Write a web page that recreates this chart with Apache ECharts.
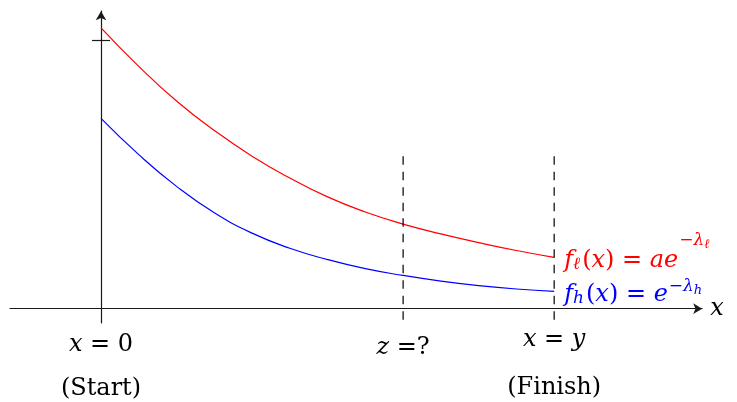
<!DOCTYPE html>
<html>
<head>
<meta charset="utf-8">
<script src="https://cdn.jsdelivr.net/npm/echarts@6/dist/echarts.min.js"></script>
<style>
  html, body { margin: 0; padding: 0; background: #fff; }
  #chart { width: 737px; height: 402px; }
</style>
</head>
<body>
<div id="chart"></div>
<script>
// sample positions along x (axis units, 0 = start)
const xs = [0, 0.5, 1, 1.5, 2, 2.5, 3, 3.5, 4, 4.5, 5, 5.5, 6]
const redValues = [3.72, 3.21, 2.75, 2.36, 2.02, 1.73, 1.48, 1.28, 1.12, 0.99, 0.875, 0.77, 0.68]
const blueValues = [2.52, 2.04, 1.62, 1.27, 1.00, 0.80, 0.65, 0.53, 0.44, 0.365, 0.305, 0.26, 0.23]
// dashed verticals at z and y
const markerXs = [4, 6]
const markerSpan = [2.02, -0.19]
// tick labels
const xTickValues = [0, 4, 6]
const xTickLabels = ['x = 0', 'z =?', 'x = y']
const xSubLabels = ['(Start)', '', '(Finish)']
const yTickValues = [3.55]

const FONT = 'DejaVu Serif'
const FS = 24
// per-label line heights, so each label's baseline sits where it is in the picture
const firstLineH = [54, 60, 44]
const secondLineH = [34, 34, 52]

const chart = echarts.init(document.getElementById('chart'))

const labelRich = {}
firstLineH.concat(secondLineH).forEach(lh => {
  labelRich['i' + lh] = { fontFamily: FONT, fontSize: FS, fontStyle: 'italic', lineHeight: lh, color: '#000' }
  labelRich['n' + lh] = { fontFamily: FONT, fontSize: FS, lineHeight: lh, color: '#000' }
})

function mathRich(s, lh) {
  return s.replace(/([A-Za-z]+)|([^A-Za-z]+)/g, (m, a, b) => a ? `{i${lh}|${a}}` : `{n${lh}|${b}}`)
}

function endRich(color, supRaise, supSubRaise) {
  const base = { fontFamily: FONT, color: color }
  return {
    fi: { ...base, fontSize: FS, fontStyle: 'italic', lineHeight: 30 },
    fn: { ...base, fontSize: FS, lineHeight: 30 },
    sub: { ...base, fontSize: 17, fontStyle: 'italic', lineHeight: 18, padding: [8, 2, 0, 0] },
    sup: { ...base, fontSize: 17, fontStyle: 'italic', lineHeight: 18, padding: [0, 0, supRaise * 2, 1] },
    supsub: { ...base, fontSize: 13, fontStyle: 'italic', lineHeight: 14, padding: [0, 0, supSubRaise * 2, 0] }
  }
}

const axisLineStyle = { color: '#1a1a1a', width: 1.2 }

chart.setOption({
  animation: false,
  grid: { left: 10, right: 34.8, top: 11.2, bottom: 79, outerBoundsMode: 'none', containLabel: false },
  xAxis: {
    type: 'value',
    min: -1.205,
    max: 7.96,
    name: 'x',
    nameLocation: 'end',
    nameGap: 8,
    nameTextStyle: { fontFamily: FONT, fontSize: FS, fontStyle: 'italic', color: '#000' },
    axisLine: { onZero: true, symbol: ['none', 'arrow'], symbolSize: [8, 9], lineStyle: axisLineStyle },
    axisTick: { show: false },
    splitLine: { show: false },
    axisLabel: {
      customValues: xTickValues,
      margin: -5,
      rich: labelRich,
      formatter: (value) => {
        const k = xTickValues.indexOf(value)
        let s = mathRich(xTickLabels[k], firstLineH[k])
        if (xSubLabels[k]) s += '\n' + `{n${secondLineH[k]}|${xSubLabels[k]}}`
        return s
      }
    }
  },
  yAxis: [{
    type: 'value',
    min: -0.19,
    max: 3.94,
    axisLine: { onZero: true, symbol: ['none', 'arrow'], symbolSize: [8, 9], lineStyle: axisLineStyle },
    axisTick: { show: true, customValues: yTickValues, length: 9, lineStyle: axisLineStyle },
    axisLabel: { show: false },
    splitLine: { show: false }
  }, {
    // right half of the crossing tick
    type: 'value',
    min: -0.19,
    max: 3.94,
    position: 'left',
    offset: -91,
    axisLine: { show: false, onZero: false },
    axisTick: { show: true, inside: true, customValues: yTickValues, length: 9, lineStyle: axisLineStyle },
    axisLabel: { show: false },
    splitLine: { show: false }
  }],
  series: [
    {
      type: 'line',
      data: xs.map((x, i) => [x, redValues[i]]),
      smooth: true,
      showSymbol: false,
      lineStyle: { color: '#ff0000', width: 1.2 },
      endLabel: {
        show: true,
        distance: 10,
        offset: [0, 3],
        rich: endRich('#ff0000', 19.5, 15.5),
        formatter: '{fi|f}{sub|ℓ}{fn|(}{fi|x}{fn|) = }{fi|ae}{sup|−λ}{supsub|ℓ}'
      }
    },
    {
      type: 'line',
      data: xs.map((x, i) => [x, blueValues[i]]),
      smooth: true,
      showSymbol: false,
      lineStyle: { color: '#0000ff', width: 1.2 },
      endLabel: {
        show: true,
        distance: 10,
        offset: [0, 3],
        rich: endRich('#0000ff', 7.5, 3.5),
        formatter: '{fi|f}{sub|h}{fn|(}{fi|x}{fn|) = }{fi|e}{sup|−λ}{supsub|h}'
      }
    },
    ...markerXs.map(mx => ({
      type: 'line',
      data: markerSpan.map(v => [mx, v]),
      clip: false,
      silent: true,
      showSymbol: false,
      lineStyle: { color: '#000', width: 1.2, type: [8.5, 7] }
    }))
  ]
})
</script>
</body>
</html>
